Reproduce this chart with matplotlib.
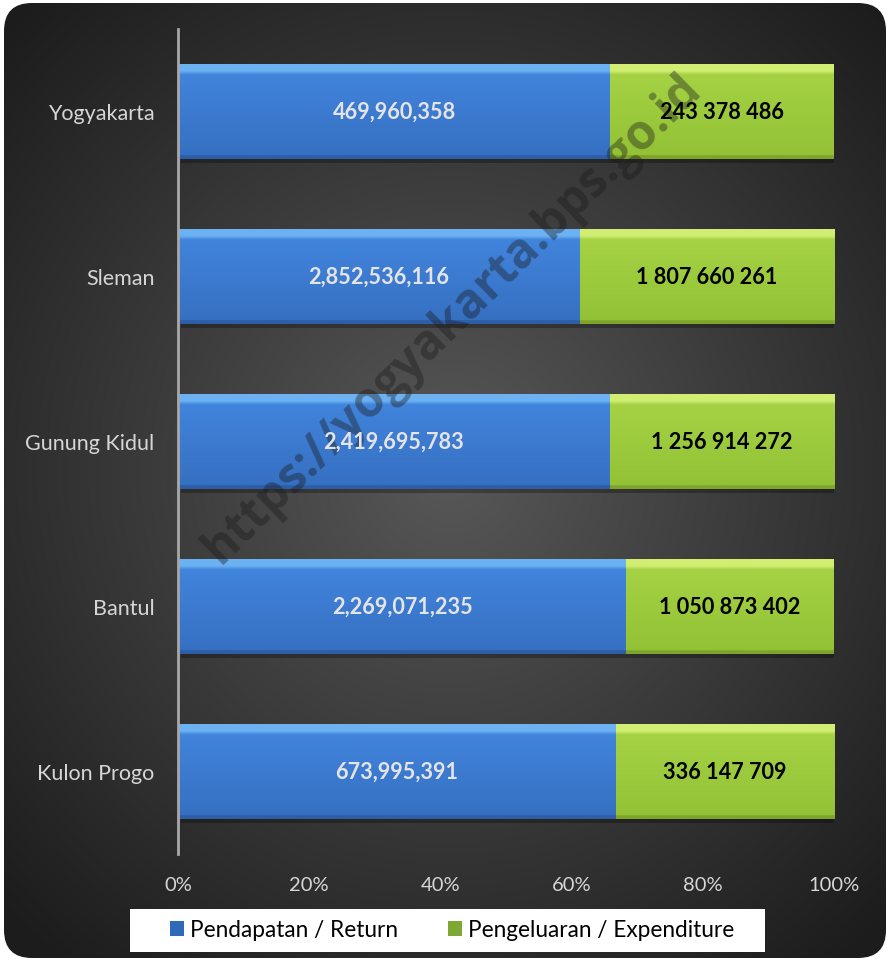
import numpy as np
import matplotlib
matplotlib.use("Agg")
import matplotlib.pyplot as plt
from matplotlib.patches import FancyBboxPatch, Rectangle
from matplotlib.colors import to_rgb
import matplotlib.patheffects as pe

plt.rcParams['font.family'] = ['Lato', 'DejaVu Sans']

# ---------------- data ----------------
regions = ["Kulon Progo", "Bantul", "Gunung Kidul", "Sleman", "Yogyakarta"]
pendapatan = [673995391, 2269071235, 2419695783, 2852536116, 469960358]
pengeluaran = [336147709, 1050873402, 1256914272, 1807660261, 243378486]
pend_labels = ["673,995,391", "2,269,071,235", "2,419,695,783", "2,852,536,116", "469,960,358"]
peng_labels = ["336 147 709", "1 050 873 402", "1 256 914 272", "1 807 660 261", "243 378 486"]
xticks = [0, 20, 40, 60, 80, 100]
xtick_labels = ["0%", "20%", "40%", "60%", "80%", "100%"]
legend_labels = ["Pendapatan / Return", "Pengeluaran / Expenditure"]

W, H = 890, 962
fig = plt.figure(figsize=(W / 100, H / 100), dpi=100)
fig.patch.set_facecolor("white")

# ---------------- background with radial gradient ----------------
bg = fig.add_axes([0, 0, 1, 1])
bg.set_xlim(0, W)
bg.set_ylim(0, H)
bg.axis("off")
yy, xx = np.mgrid[0:H, 0:W]
cx, cy = 450, 470
r = np.sqrt(((xx - cx) / 620.0) ** 2 + ((yy - cy) / 640.0) ** 2)
r = np.clip(r, 0, 1)
c_in = np.array(to_rgb("#585858"))
c_out = np.array(to_rgb("#1c1c1c"))
img = c_in[None, None, :] * (1 - r[..., None]) + c_out[None, None, :] * r[..., None]
rounded = FancyBboxPatch((4, 3), W - 8, H - 7, boxstyle="round,pad=0,rounding_size=28",
                         transform=bg.transData, facecolor="none", edgecolor="none")
bg.add_patch(rounded)
im = bg.imshow(img, extent=(0, W, 0, H), origin="upper", aspect="auto", zorder=0)
im.set_clip_path(rounded)

# ---------------- main axes ----------------
ax = fig.add_axes([178 / W, (H - 855) / H, 656 / W, 825 / H])
ax.patch.set_alpha(0)

totals = np.array(pendapatan, dtype=float) + np.array(pengeluaran, dtype=float)
p_pct = np.array(pendapatan) / totals * 100
g_pct = np.array(pengeluaran) / totals * 100
ypos = np.arange(len(regions))
bh = 0.57

shadow = [pe.SimplePatchShadow(offset=(2, -3), shadow_rgbFace="black", alpha=0.28), pe.Normal()]
bars_p = ax.barh(ypos, p_pct, height=bh, color="#3b7dd6", edgecolor="none",
                 label=legend_labels[0], zorder=2, path_effects=shadow)
bars_g = ax.barh(ypos, g_pct, left=p_pct, height=bh, color="#9bcb3c", edgecolor="none",
                 label=legend_labels[1], zorder=2, path_effects=shadow)


def grad(top_hi, main_top, main_bot, bot):
    n = 200
    arr = np.zeros((n, 2, 3))
    hi = np.array(to_rgb(top_hi))
    mt = np.array(to_rgb(main_top))
    mb = np.array(to_rgb(main_bot))
    bt = np.array(to_rgb(bot))
    for i in range(n):
        t = i / (n - 1)
        if t < 0.07:
            c = hi
        elif t < 0.11:
            s = (t - 0.07) / 0.04
            c = hi * (1 - s) + mt * s
        elif t < 0.96:
            s = (t - 0.11) / 0.85
            c = mt * (1 - s) + mb * s
        else:
            c = bt
        arr[i, :, :] = c
    return arr


gb = grad("#6cb2f2", "#4184dc", "#3670c2", "#2d5ea6")
gg = grad("#d2ee72", "#a4d244", "#94c236", "#7ea42c")
for bars, g in ((bars_p, gb), (bars_g, gg)):
    for patch in bars.patches:
        x0, y0 = patch.get_x(), patch.get_y()
        w, h = patch.get_width(), patch.get_height()
        im2 = ax.imshow(g, extent=(x0, x0 + w, y0, y0 + h), origin="upper",
                        aspect="auto", zorder=3, interpolation="bilinear")
        im2.set_clip_path(patch)

# watermark (above bars, below value labels)
ax.text(453 / W, 1 - 319 / H, "https://yogyakarta.bps.go.id", rotation=44.5,
        transform=fig.transFigure, ha="center", va="center", fontsize=34.5,
        fontweight="bold", family=["Open Sans", "DejaVu Sans"],
        color="#1a1a1a", alpha=0.4, zorder=4, clip_on=False)

# labels
for i in range(len(regions)):
    ax.text(p_pct[i] / 2, ypos[i], pend_labels[i], ha="center", va="center",
            fontsize=15.6, fontweight="bold", color="#e4e4e4", zorder=5)
    ax.text(p_pct[i] + g_pct[i] / 2, ypos[i], peng_labels[i], ha="center", va="center",
            fontsize=15.6, fontweight="bold", color="#000000", zorder=5)

ax.set_xlim(0, 100)
ax.set_ylim(-0.5, 4.5)
ax.set_yticks(ypos)
ax.set_yticklabels(regions, fontsize=15.5, color="#d6d6d6")
ax.set_xticks(xticks)
ax.set_xticklabels(xtick_labels, fontsize=14.5, color="#d6d6d6")
ax.tick_params(axis="both", length=0)
ax.tick_params(axis="y", pad=17)
ax.tick_params(axis="x", pad=16)
for s in ["top", "right", "bottom"]:
    ax.spines[s].set_visible(False)
ax.spines["left"].set_color("#a8a8a8")
ax.spines["left"].set_linewidth(2)
ax.spines["left"].set_zorder(6)

# legend box
fig.patches.append(Rectangle((130 / W, (H - 953) / H), 635 / W, 43 / H,
                             transform=fig.transFigure, facecolor="white",
                             edgecolor="none", zorder=1))
leg = fig.legend(handles=[bars_p, bars_g], labels=legend_labels, ncol=2,
                 loc="center", bbox_to_anchor=(452 / W, (H - 931) / H),
                 frameon=False, fontsize=16.3, handlelength=0.65, handleheight=0.65,
                 handletextpad=0.25, columnspacing=2.2)
for t in leg.get_texts():
    t.set_color("#000000")
leg.legend_handles[0].set_facecolor("#2f6ab8")
leg.legend_handles[1].set_facecolor("#7fa832")
for h in leg.legend_handles:
    h.set_path_effects([])
leg.set_zorder(12)

fig.savefig("out.png", dpi=100, facecolor=fig.get_facecolor())
